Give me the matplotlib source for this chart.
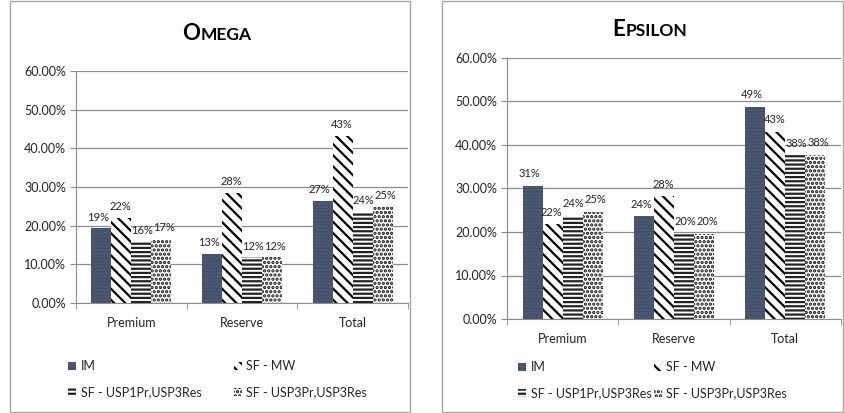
import numpy as np
import matplotlib
matplotlib.use("Agg")
import matplotlib.pyplot as plt
from matplotlib.patches import Patch, Rectangle
from matplotlib.offsetbox import TextArea, HPacker, AnchoredOffsetbox
from matplotlib.ticker import FuncFormatter

plt.rcParams['font.family'] = ['Lato', 'DejaVu Sans']
plt.rcParams['hatch.linewidth'] = 1.6

categories = ['Premium', 'Reserve', 'Total']
series = ['IM', 'SF - MW', 'SF - USP1Pr,USP3Res', 'SF - USP3Pr,USP3Res']

omega_im = [19, 13, 27]
omega_mw = [22, 28, 43]
omega_usp1 = [16, 12, 24]
omega_usp3 = [17, 12, 25]

epsilon_im = [31, 24, 49]
epsilon_mw = [22, 28, 43]
epsilon_usp1 = [24, 20, 38]
epsilon_usp3 = [25, 20, 38]

# bar heights slightly off the rounded labels
omega_h = [[19.3, 12.8, 26.5], [22.0, 28.4, 43.2], [15.8, 11.8, 23.6], [16.6, 11.8, 24.8]]
epsilon_h = [[30.6, 23.6, 48.8], [21.8, 28.2, 43.0], [23.7, 19.6, 37.6], [24.7, 19.6, 37.8]]

styles = [
    dict(facecolor='#3a4961', edgecolor='#56647c', hatch='.....'),
    dict(facecolor='white', edgecolor='black', hatch='\\\\\\'),
    dict(facecolor='white', edgecolor='#222222', hatch='----'),
    dict(facecolor='white', edgecolor='#111111', hatch='....'),
]

txt = '#262626'

fig = plt.figure(figsize=(8.44, 4.13), dpi=100)

# panel borders
for x0, x1 in [(10, 410), (442, 843)]:
    fig.patches.append(Rectangle((x0 / 844, 1 / 413), (x1 - x0) / 844, 411 / 413,
                                 transform=fig.transFigure, fill=False,
                                 edgecolor='#a6a6a6', linewidth=1))


def small_caps_title(first, rest, xc, yc):
    box = HPacker(children=[
        TextArea(first, textprops=dict(fontsize=16, fontweight='bold', color='black')),
        TextArea(rest, textprops=dict(fontsize=12.5, fontweight='bold', color='black'))],
        align='baseline', pad=0, sep=0)
    ab = AnchoredOffsetbox(loc='center', child=box, frameon=False,
                           bbox_to_anchor=(xc / 844, 1 - yc / 413),
                           bbox_transform=fig.transFigure, borderpad=0, pad=0)
    fig.add_artist(ab)


def draw_panel(rect, labels, heights, xlabpad):
    ax = fig.add_axes(rect)
    x = np.arange(len(categories))
    w = 0.18
    nudge = [-3, -1, 1, 3]  # spread labels a bit so neighbours don't collide
    for i in range(4):
        b = ax.bar(x + (i - 1.5) * w, heights[i], w, linewidth=0, **styles[i])
        for j, r in enumerate(b):
            ax.annotate(f'{labels[i][j]}%',
                        (r.get_x() + r.get_width() / 2, r.get_height() + 1.5),
                        xytext=(nudge[i], 0), textcoords='offset pixels',
                        ha='center', va='bottom', fontsize=8, color=txt)
    ax.set_xlim(-0.5, 2.5)
    ax.set_ylim(0, 60)
    ax.set_yticks(np.arange(0, 61, 10))
    ax.yaxis.set_major_formatter(FuncFormatter(lambda v, p: f'{v:.2f}%'))
    ax.grid(axis='y', color='#8c8c8c', linewidth=0.9)
    ax.set_axisbelow(True)
    for s in ['top', 'right']:
        ax.spines[s].set_visible(False)
    for s in ['left', 'bottom']:
        ax.spines[s].set_color('#8c8c8c')
    ax.set_xticks(x)
    ax.set_xticklabels(categories)
    ax.set_xticks([-0.5, 0.5, 1.5, 2.5], minor=True)
    ax.tick_params(axis='x', which='major', length=0, pad=xlabpad, labelsize=9,
                   labelcolor=txt)
    ax.tick_params(axis='x', which='minor', length=4, color='#8c8c8c')
    ax.tick_params(axis='y', length=4, color='#8c8c8c', labelsize=9,
                   labelcolor=txt, pad=3)
    return ax


handles = [Patch(linewidth=0, **styles[k], label=series[k]) for k in range(4)]
order = [0, 2, 1, 3]

# Omega
draw_panel([76 / 844, 1 - 303 / 413, (408 - 76) / 844, (303 - 71) / 413],
           [omega_im, omega_mw, omega_usp1, omega_usp3], omega_h, 10)
small_caps_title('O', 'MEGA', 217, 33)
fig.legend([handles[k] for k in order], [series[k] for k in order], ncol=2,
           loc='upper left', bbox_to_anchor=(62 / 844, 1 - 354 / 413), frameon=False,
           fontsize=9, handlelength=0.6, handleheight=0.6, handletextpad=0.4,
           columnspacing=2.6, labelspacing=1.1, borderpad=0, labelcolor=txt)

# Epsilon
draw_panel([507 / 844, 1 - 319 / 413, (841 - 507) / 844, (319 - 58) / 413],
           [epsilon_im, epsilon_mw, epsilon_usp1, epsilon_usp3], epsilon_h, 10)
small_caps_title('E', 'PSILON', 650, 30)
fig.legend([handles[k] for k in order], [series[k] for k in order], ncol=2,
           loc='upper left', bbox_to_anchor=(512 / 844, 1 - 355 / 413), frameon=False,
           fontsize=9, handlelength=0.6, handleheight=0.6, handletextpad=0.4,
           columnspacing=0.2, labelspacing=1.1, borderpad=0, labelcolor=txt)

fig.savefig('out.png', dpi=100)
